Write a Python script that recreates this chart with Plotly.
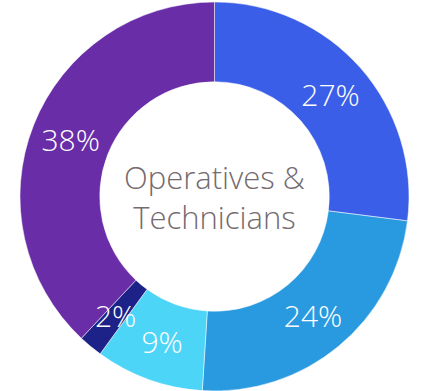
import math
import plotly.graph_objects as go

labels = ["Segment A", "Segment B", "Segment C", "Segment D", "Segment E"]
values = [27, 24, 9, 2, 38]
colors = ["#3B5EE8", "#2A9AE0", "#4DD5F7", "#1C2288", "#6A2DA8"]
center_text = "Operatives &<br>Technicians"

HOLE = 0.59
FONT = "Open Sans, Liberation Sans, sans-serif"
SMALL = 5  # percent below which the label is drawn as an overlay annotation

total = sum(values)
positions = ["inside" if 100 * v / total >= SMALL else "none" for v in values]

fig = go.Figure(go.Pie(
    labels=labels,
    values=values,
    hole=HOLE,
    sort=False,
    direction="clockwise",
    rotation=0,
    marker=dict(colors=colors, line=dict(color="white", width=0.5)),
    textinfo="percent",
    texttemplate="%{percent:.0%}",
    textposition=positions,
    insidetextorientation="horizontal",
    textfont=dict(family=FONT, size=30, color="white", weight=300),
    showlegend=False,
    hoverinfo="skip",
))

annotations = [dict(
    text=center_text, x=0.5, y=0.5, xref="paper", yref="paper",
    showarrow=False,
    font=dict(family=FONT, size=31, color="#756A6E", weight=300),
)]

# labels of thin slices: place at the middle of the ring, at the slice's mid angle
cum = 0
rmid = (HOLE + 1) / 2
for v, pos in zip(values, positions):
    mid = (cum + v / 2) / total * 2 * math.pi
    cum += v
    if pos == "none":
        annotations.append(dict(
            text=f"{round(100 * v / total)}%",
            x=0.5 + 0.5 * rmid * math.sin(mid),
            y=0.5 + 0.5 * rmid * math.cos(mid),
            xref="paper", yref="paper", showarrow=False,
            xanchor="center", yanchor="middle",
            font=dict(family=FONT, size=30, color="white", weight=300),
        ))

fig.update_layout(
    width=427, height=391,
    margin=dict(l=20, r=18, t=2, b=0),
    paper_bgcolor="white",
    plot_bgcolor="white",
    annotations=annotations,
)

fig.write_html("out.html")
